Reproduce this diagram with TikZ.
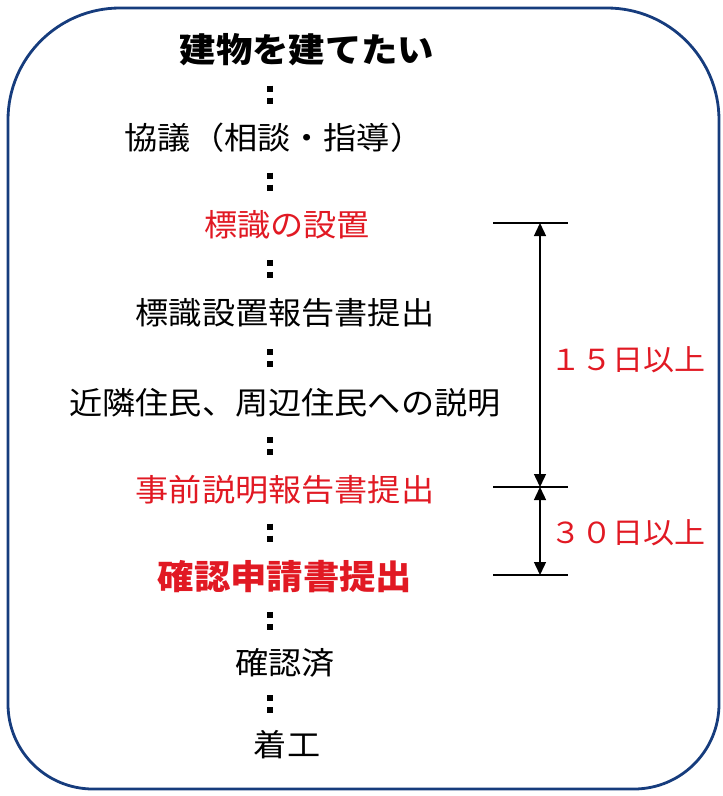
\documentclass[tikz,border=0pt]{standalone}
\usepackage{fontspec}
\usetikzlibrary{calc,arrows.meta}
\newfontfamily\jp{Noto Sans CJK JP}[FakeStretch=1.07]
\definecolor{framecol}{RGB}{22,60,125}
\definecolor{notered}{RGB}{225,25,35}
\begin{document}
\begin{tikzpicture}[x=1pt,y=-1pt,
  stage/.style={inner sep=0pt,font=\jp\fontsize{31}{31}\selectfont},
  redstage/.style={stage,text=notered},
  colon/.style={line width=5.5pt,dash pattern=on 6pt off 6pt},
  tick/.style={line width=1.4pt},
  span/.style={line width=1.4pt,{Triangle[length=13pt,width=12pt]}-{Triangle[length=13pt,width=12pt]}},
  days/.style={text=notered,font=\jp\fontsize{29}{29}\selectfont}]

\useasboundingbox (0,0) rectangle (723,796);
\draw[framecol,line width=2.8pt] (8,400) [rounded corners=112pt] -- (8,8) -- (719,8) -- (719,400)
  [rounded corners=85pt] -- (719,789) -- (8,789) -- cycle;

% flow of steps
\node[stage,font=\jp\bfseries\fontsize{34}{34}\selectfont] (want) at (307,50) {建物を建てたい};
\node[stage] (talk) at (274,138) {協議（相談・指導）};
\node[redstage] (sign) at (287,225) {標識の設置};
\node[stage] (signrep) at (285,313) {標識設置報告書提出};
\node[stage] (explain) at (285,403) {近隣住民、周辺住民への説明};
\node[redstage] (prerep) at (285,490) {事前説明報告書提出};
\node[redstage,font=\jp\bfseries\fontsize{34}{34}\selectfont] (apply) at (285,577) {確認申請書提出};
\node[stage] (ok) at (285,663) {確認済};
\node[stage] (start) at (287,745) {着工};

\coordinate (col) at (270,0);
\foreach \a/\b in {want/talk,talk/sign,sign/signrep,signrep/explain,explain/prerep,prerep/apply,apply/ok,ok/start}{
  \coordinate (m) at ($(\a.south)!.5!(\b.north)$);
  \coordinate (mc) at (m -| col);
  \draw[colon] ([yshift=9pt]mc) -- ([yshift=-9pt]mc);
}

% periods
\coordinate (l1) at (493,223);
\coordinate (r1) at (568,223);
\coordinate (l2) at (493,487);
\coordinate (r2) at (568,487);
\coordinate (l3) at (493,575);
\coordinate (r3) at (568,575);
\foreach \i in {1,2,3}{
  \draw[tick] (l\i) -- (r\i);
}
\coordinate (p1) at (540,223);
\coordinate (p2) at (540,487);
\coordinate (p3) at (540,575);
\draw[span] (p1) -- (p2);
\draw[span] (p2) -- (p3);

\node[days] (d15) at (628,360) {１５日以上};
\node[days] (d30) at (628,533) {３０日以上};

\end{tikzpicture}
\end{document}
